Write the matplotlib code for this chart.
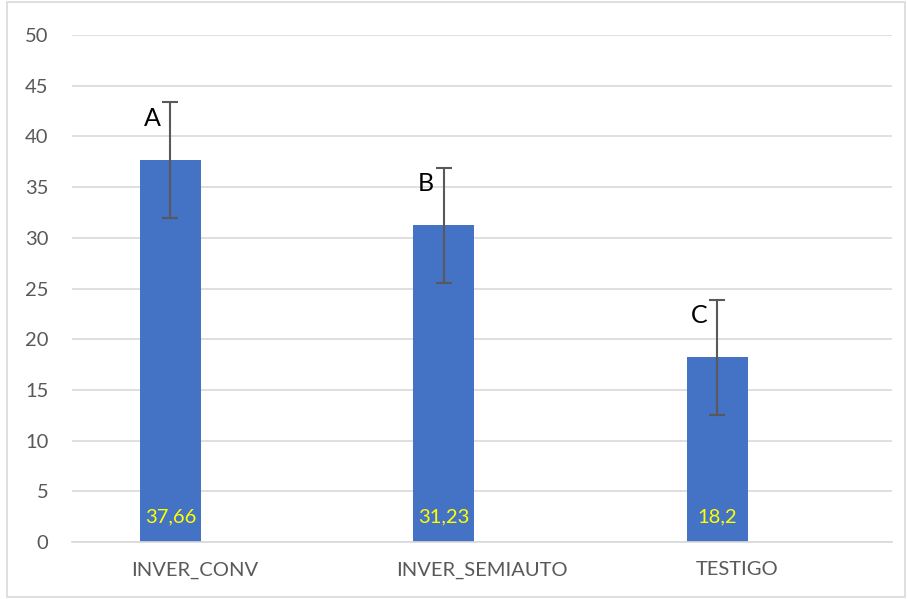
import matplotlib
matplotlib.use("Agg")
import matplotlib.pyplot as plt
from matplotlib.patches import Rectangle

categories = ["INVER_CONV", "INVER_SEMIAUTO", "TESTIGO"]
values = [37.66, 31.23, 18.2]
value_labels = ["37,66", "31,23", "18,2"]
errors = [5.7, 5.7, 5.7]
letters = ["A", "B", "C"]
yticks = [0, 5, 10, 15, 20, 25, 30, 35, 40, 45, 50]

plt.rcParams['font.family'] = ['Lato', 'DejaVu Sans']

fig = plt.figure(figsize=(9.07, 5.99), dpi=100)
fig.patches.append(Rectangle((0.008, 0.004), 0.99, 0.992, transform=fig.transFigure,
                             fill=False, edgecolor="#d9d9d9", linewidth=1.2))
ax = fig.add_axes([72/907, 1-542/599, (892-72)/907, (542-35)/599])

bar_offset = -0.14
bar_width = 0.223
xs = [i + bar_offset for i in range(len(categories))]
ax.bar(xs, values, width=bar_width, color="#4472C4", zorder=2)
ax.errorbar(xs, values, yerr=errors, fmt="none", ecolor="#595959",
            elinewidth=1.5, capsize=6, capthick=1.5, zorder=3)

for x, v, lab, let, e in zip(xs, values, value_labels, letters, errors):
    ax.text(x, 2.5, lab, ha="center", va="center", color="#FFFF00", fontsize=14.5, zorder=4)
    ax.text(x - 0.066, v + e - 1.6, let, ha="center", va="center", color="black", fontsize=18, zorder=4)

ax.set_xlim(-0.5, len(categories) - 0.5)
ax.set_ylim(0, 50)
ax.set_yticks(yticks)
ax.set_yticklabels([str(t) for t in yticks])
label_shift = [-0.05, 0.0, -0.068]
ax.set_xticks([i + s for i, s in enumerate(label_shift)])
ax.set_xticklabels(categories)
ax.tick_params(axis="both", length=0, labelsize=14.5, labelcolor="#595959")
ax.tick_params(axis="y", pad=17)
ax.tick_params(axis="x", pad=14)
ax.yaxis.grid(True, color="#d9d9d9", linewidth=1.2, zorder=0)
ax.set_axisbelow(True)
for s in ["top", "right", "left"]:
    ax.spines[s].set_visible(False)
ax.spines["bottom"].set_color("#d9d9d9")
ax.spines["bottom"].set_linewidth(1.2)

fig.savefig("out.png", dpi=100)
